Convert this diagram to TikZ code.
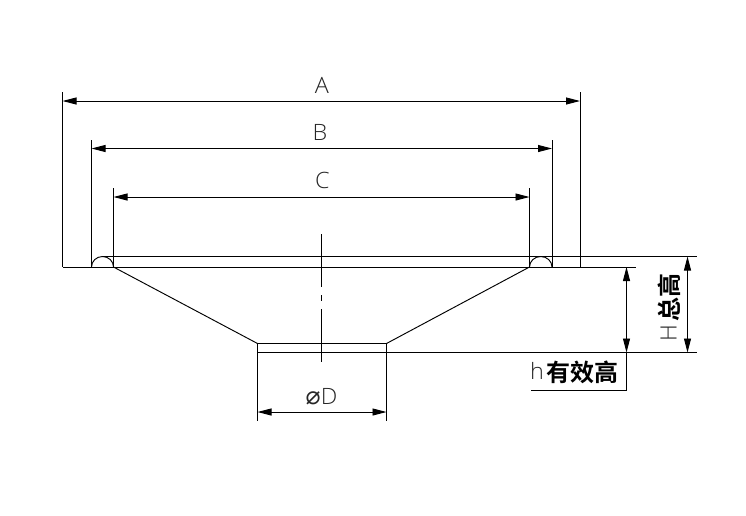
\documentclass[tikz,border=0pt]{standalone}
\usepackage{fontspec}
\setmainfont{Open Sans Light}[FakeStretch=1.04]
\newfontfamily\cjk{Noto Sans CJK SC}[BoldFont={* Bold}]
\newfontfamily\djv{DejaVu Sans}
\usetikzlibrary{arrows.meta}
\tikzset{
  ln/.style={line width=0.95pt,black},
  dim/.style={ln,{Triangle[length=14pt,width=7pt]}-{Triangle[length=14pt,width=7pt]}},
  lab/.style={inner sep=0pt,font=\fontsize{22.5}{22.5}\selectfont,text=black!85},
  cjklab/.style={inner sep=0pt,font=\fontsize{24}{24}\selectfont\cjk\bfseries}
}
\begin{document}
\begin{tikzpicture}[x=1pt,y=-1pt]
\useasboundingbox (0,0) rectangle (746,515);
% points
\coordinate (La) at (62.5,267); \coordinate (Ra) at (580,267);
\coordinate (Lb) at (91.5,267); \coordinate (Rb) at (552,267);
\coordinate (Lc) at (113.5,267); \coordinate (Rc) at (529.5,267);
\coordinate (LaT) at (62.5,92); \coordinate (RaT) at (580,92);
\coordinate (LbT) at (91.5,140); \coordinate (RbT) at (552,140);
\coordinate (LcT) at (113.5,188); \coordinate (RcT) at (529.5,188);
\coordinate (Aa) at (62.5,101); \coordinate (Ab) at (580,101);
\coordinate (Ba) at (91.5,148.5); \coordinate (Bb) at (552,148.5);
\coordinate (Ca) at (113.5,197); \coordinate (Cb) at (529.5,197);
\coordinate (TopL) at (102,256.5); \coordinate (TopR) at (697,256.5);
\coordinate (MidR) at (636,267);
\coordinate (Bl) at (257.5,343.5); \coordinate (Br) at (386.5,343.5);
\coordinate (Bl2) at (257.5,352.5); \coordinate (Br2) at (697,352.5);
\coordinate (Dl) at (257.5,421); \coordinate (Dr) at (386.5,421);
\coordinate (Da) at (257.5,412); \coordinate (Db) at (386.5,412);
\coordinate (Ha) at (687.5,256.5); \coordinate (Hb) at (687.5,352.5);
\coordinate (ha) at (626.5,267); \coordinate (hb) at (626.5,352.5);
\coordinate (hc) at (626.5,390); \coordinate (hd) at (531,390);
% outline
\draw[ln] (La) -- (MidR);
\draw[ln] (TopL) -- (TopR);
\draw[ln] (Lb) arc[start angle=180,end angle=360,x radius=11,y radius=10.5];
\draw[ln] (Rc) arc[start angle=180,end angle=360,x radius=11.25,y radius=10.5];
\draw[ln] (Lc) -- (Bl) -- (Br) -- (Rc);
\draw[ln] (Bl2) -- (Br2);
% extensions
\draw[ln] (LaT) -- (La); \draw[ln] (RaT) -- (Ra);
\draw[ln] (LbT) -- (Lb); \draw[ln] (RbT) -- (Rb);
\draw[ln] (LcT) -- (Lc); \draw[ln] (RcT) -- (Rc);
\draw[ln] (Bl) -- (Dl); \draw[ln] (Br) -- (Dr);
% centre line
\coordinate (c1) at (321.5,234); \coordinate (c2) at (321.5,286.5);
\coordinate (c3) at (321.5,295); \coordinate (c4) at (321.5,301);
\coordinate (c5) at (321.5,309); \coordinate (c6) at (321.5,361.5);
\draw[ln] (c1) -- (c2); \draw[ln] (c3) -- (c4); \draw[ln] (c5) -- (c6);
% dimensions
\draw[dim] (Aa) -- (Ab);
\draw[dim] (Ba) -- (Bb);
\draw[dim] (Ca) -- (Cb);
\draw[dim] (Da) -- (Db);
\draw[dim] (Ha) -- (Hb);
\draw[dim] (ha) -- (hb);
\draw[ln] (hb) -- (hc) -- (hd);
% labels
\node[lab] (tA) at (322,85) {A};
\node[lab] (tB) at (320,132.5) {B};
\node[lab] (tC) at (322.5,180.5) {C};
\node[lab,anchor=base] (tD) at (321.5,404) {{\djv\fontsize{25}{25}\selectfont ⌀}D};
\node[lab,anchor=west] (th) at (530,371) {h};
\node[cjklab,anchor=west] (tcn) at (546.5,372) {有效高};
\node[lab,rotate=90] (tH) at (668.5,333) {H};
\node[cjklab,rotate=90] (tHc) at (669,297) {总高};
\end{tikzpicture}
\end{document}
